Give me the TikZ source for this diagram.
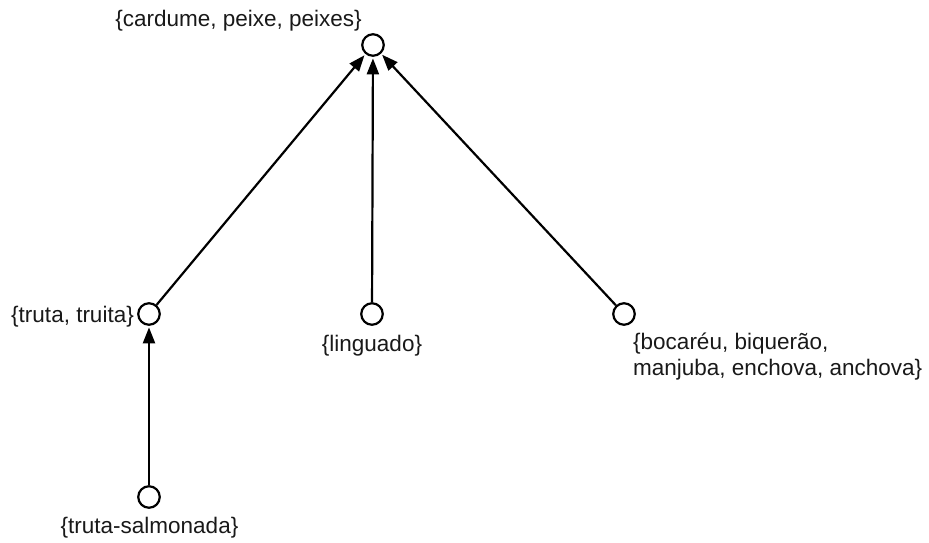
\documentclass[tikz,border=0pt]{standalone}
\usepackage{fontspec}
\setmainfont{Liberation Sans}
\usetikzlibrary{arrows.meta}
\tikzset{
  vertex/.style={circle, draw=black, line width=2.2pt, fill=white,
    minimum size=21.5pt, inner sep=0pt},
  lbl/.style={inner sep=0pt, text=black!90,
    font=\fontsize{22.5}{26}\selectfont},
  edge/.style={line width=2.2pt, draw=black,
    -{Triangle[length=16pt,width=12pt]}, shorten >=1.5pt}
}
\begin{document}
\begin{tikzpicture}[x=1pt,y=-1pt]
  \useasboundingbox (0,0) rectangle (929,543);

  % vertices of the hierarchy
  \node[vertex] (top)   at (373,45)  {};
  \node[vertex] (truta) at (149,314) {};
  \node[vertex] (ling)  at (372,314) {};
  \node[vertex] (boca)  at (624,314) {};
  \node[vertex] (salm)  at (149,497) {};

  % labels
  \node[lbl, anchor=base east] (ltop) at (362,27) {\{cardume, peixe, peixes\}};
  \node[lbl, anchor=base east] (ltruta) at (134,322) {\{truta, truita\}};
  \node[lbl, anchor=base] (lling) at (372,351) {\{linguado\}};
  \node[lbl, anchor=base] (lsalm) at (149.5,533) {\{truta-salmonada\}};
  \node[lbl, anchor=north west, align=left] (lboca) at (633,333)
    {\{bocaréu, biquerão,\\manjuba, enchova, anchova\}};

  % edges point towards the more general set
  \draw[edge] (truta) -- (top);
  \draw[edge] (ling)  -- (top);
  \draw[edge] (boca)  -- (top);
  \draw[edge] (salm)  -- (truta);
\end{tikzpicture}
\end{document}
